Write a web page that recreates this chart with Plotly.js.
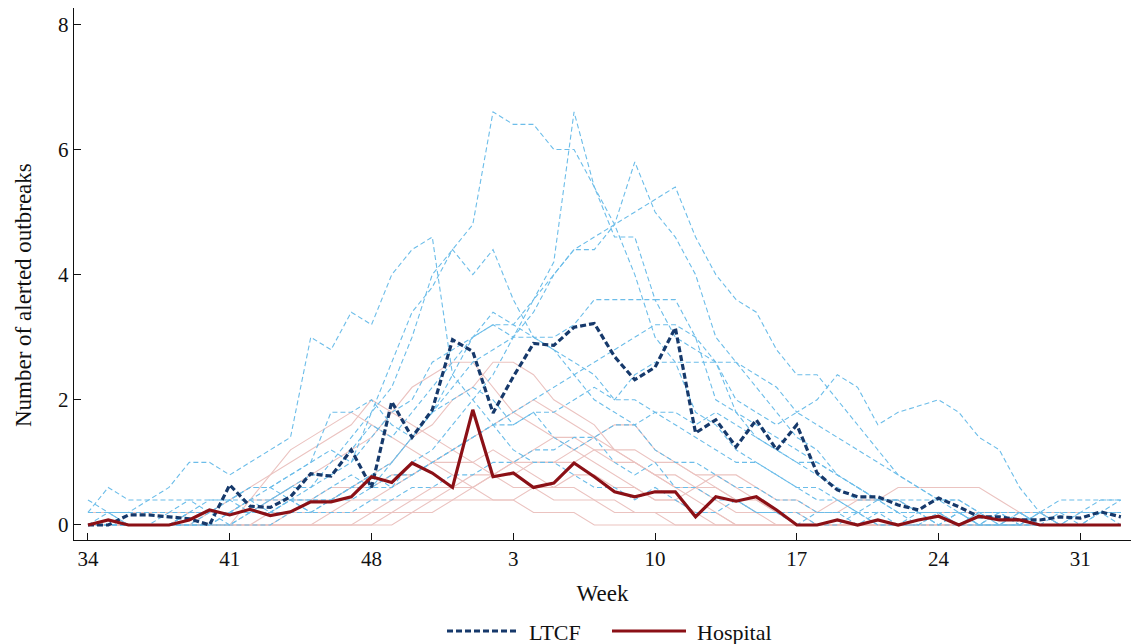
<!DOCTYPE html>
<html>
<head>
<meta charset="utf-8">
<script src="https://cdn.plot.ly/plotly-3.0.1.min.js"></script>
<style>html,body{margin:0;padding:0;background:#fff;}#chart{width:1131px;height:644px;}</style>
</head>
<body>
<div id="chart"></div>
<script>
// Epidemiological weeks (season from week 34 to week 33)
const weeks = ["34","35","36","37","38","39","40","41","42","43","44","45","46","47","48","49","50","51","52",
  "1","2","3","4","5","6","7","8","9","10","11","12","13","14","15","16","17","18","19","20","21","22","23","24",
  "25","26","27","28","29","30","31","32","33"];
const tickWeeks = ["34","41","48","3","10","17","24","31"];
const yTicks = [0,2,4,6,8];

// Mean series
const ltcfMean = [0,0,0.16,0.16,0.13,0.1,0,0.64,0.3,0.28,0.45,0.82,0.78,1.2,0.6,1.97,1.4,1.84,2.96,2.77,1.79,2.37,2.9,2.87,3.16,3.22,2.69,2.32,2.52,3.15,1.47,1.68,1.25,1.68,1.2,1.6,0.83,0.56,0.45,0.45,0.32,0.24,0.43,0.29,0.13,0.13,0.08,0.08,0.13,0.11,0.21,0.13];
const hospMean = [0,0.08,0,0,0,0.08,0.24,0.16,0.25,0.15,0.21,0.37,0.37,0.45,0.77,0.68,0.99,0.83,0.6,1.84,0.77,0.83,0.6,0.67,0.99,0.77,0.53,0.45,0.53,0.53,0.13,0.45,0.38,0.45,0.24,0,0,0.08,0,0.08,0,0.08,0.14,0,0.14,0.08,0.08,0,0,0,0,0];

// Individual LTCF seasons
const ltcf1 = [0.4,0.2,0.2,0.4,0.6,1.0,1.0,0.8,1.0,1.2,1.4,3.0,2.8,3.4,3.2,4.0,4.4,4.6,2.4,2.0,1.6,1.2,1.0,1.0,0.8,0.6,0.6,0.4,0.6,0.4,0.2,0.2,0.4,0.2,0.2,0,0.2,0.2,0,0.2,0,0,0.2,0,0,0.2,0,0,0.2,0,0,0];
const ltcf2 = [0,0,0,0,0.2,0.2,0.2,0.4,0.4,0.6,0.4,0.6,0.8,1.0,1.8,2.2,3.0,4.0,4.4,4.8,6.6,6.4,6.4,6.0,6.0,5.4,4.6,4.6,3.6,3.6,3.0,2.0,1.8,1.4,1.2,1.0,0.8,0.6,0.4,0.4,0.2,0.2,0.2,0,0.2,0,0,0.2,0,0,0.2,0];
const ltcf3 = [0,0.2,0,0,0,0.2,0.2,0.2,0.4,0.2,0.4,0.4,0.6,0.8,0.6,1.0,1.4,1.8,2.4,3.0,3.4,3.2,3.6,4.2,6.6,5.4,4.8,4.0,3.0,2.6,1.8,1.6,1.2,1.0,0.8,0.6,0.6,0.4,0.2,0.4,0.2,0.2,0,0.2,0,0,0.2,0,0,0,0.2,0.2];
const ltcf4 = [0,0,0,0,0,0,0.2,0,0.2,0.2,0.4,0.2,0.4,0.6,0.8,0.6,1.0,1.2,1.6,2.0,2.4,3.0,3.6,4.0,4.4,4.4,4.8,5.8,5.0,4.6,4.0,3.0,2.6,2.2,1.8,1.4,1.2,0.8,0.6,0.4,0.4,0.2,0.2,0,0.2,0,0.2,0,0,0,0,0];
const ltcf5 = [0.2,0.6,0.4,0.4,0.4,0.4,0.2,0.4,0.6,0.6,0.8,1.0,1.2,1.0,1.4,1.8,2.0,2.6,2.8,3.0,3.2,3.0,3.4,4.0,4.4,4.6,4.8,5.0,5.2,5.4,4.6,4.0,3.6,3.4,2.8,2.4,2.4,2.0,1.6,1.2,0.8,0.6,0.4,0.4,0.2,0.2,0,0.2,0,0.2,0.2,0.2];
const ltcf6 = [0,0,0,0,0,0,0,0.2,0.2,0.2,0.4,0.4,0.4,0.6,0.6,0.8,0.8,1.0,1.2,1.4,1.6,1.6,1.8,1.8,2.0,2.2,2.0,2.4,2.6,2.6,2.6,2.6,2.6,2.4,2.2,1.8,2.0,2.4,2.2,1.6,1.8,1.9,2.0,1.8,1.4,1.2,0.6,0.2,0.2,0.2,0.4,0.4];
const ltcf7 = [0,0,0,0,0,0.2,0.2,0.2,0.4,0.4,0.6,0.6,1.0,1.4,1.8,2.6,3.4,3.8,4.4,4.0,4.4,3.6,3.0,2.8,2.4,2.0,1.8,1.6,1.2,1.0,1.0,0.8,0.6,0.6,0.4,0.4,0.2,0.2,0.2,0,0,0.2,0,0,0,0,0,0,0,0,0,0];
const ltcf8 = [0.2,0.2,0.2,0.2,0.2,0.4,0.4,0.4,0.2,0.4,0.6,0.8,0.8,1.2,1.6,1.4,1.8,2.2,2.6,3.0,3.2,3.2,3.0,3.0,3.2,3.6,3.6,3.6,3.6,3.0,2.8,2.6,1.8,1.6,1.4,1.2,1.0,0.8,0.6,0.4,0.4,0.2,0.2,0.2,0,0.2,0.2,0,0,0.2,0.2,0.4];
const ltcf9 = [0,0,0,0,0,0,0,0.2,0.2,0.4,0.4,0.2,0.4,0.6,0.8,1.0,1.4,1.8,2.0,2.2,2.0,1.6,1.8,1.4,1.2,1.4,1.0,0.8,1.0,0.6,0.6,0.4,0.4,0.2,0.2,0.2,0,0,0.2,0,0,0,0,0.2,0,0,0,0,0,0,0,0];
const ltcf10 = [0,0,0,0,0,0,0,0,0.2,0.2,0.2,0.4,0.4,0.4,0.6,0.6,0.8,1.0,1.2,1.4,1.6,1.8,2.0,2.2,2.4,2.6,2.8,3.0,3.2,3.2,3.0,2.6,2.0,1.8,1.6,1.8,1.6,1.4,1.2,1.0,0.8,0.6,0.4,0.4,0.2,0.2,0.2,0,0,0,0,0];
const ltcf11 = [0,0,0,0,0,0.2,0.4,0.4,0.6,0.6,0.8,1.0,1.8,1.8,2.0,1.6,1.4,1.8,2.2,2.6,2.8,3.0,3.0,2.8,2.6,2.4,2.0,2.0,1.8,1.6,1.4,1.2,1.0,1.0,0.8,0.6,0.4,0.4,0.2,0.2,0.2,0,0.2,0.2,0,0,0,0.2,0,0,0,0];
const ltcf12 = [0.2,0.2,0,0,0,0,0,0,0,0,0.2,0.2,0.2,0.2,0.4,0.4,0.6,0.6,0.8,0.8,1.0,1.0,1.2,1.2,1.4,1.4,1.6,1.6,1.8,1.8,1.6,1.8,1.6,1.4,1.2,1.0,1.0,0.8,0.6,0.4,0.4,0.4,0.4,0.2,0.2,0.2,0.2,0.2,0.4,0.4,0.4,0.4];

// Individual hospital seasons
const hosp1 = [0,0,0,0,0,0,0.2,0.2,0.4,0.4,0.6,0.8,1.0,1.2,1.4,1.8,2.2,2.4,2.6,2.6,2.2,1.8,1.6,1.4,1.2,1.0,0.8,0.6,0.4,0.4,0.2,0.2,0,0,0,0,0,0,0,0,0,0,0,0,0,0,0,0,0,0,0,0];
const hosp2 = [0,0,0,0,0,0,0,0,0,0.2,0.2,0.4,0.4,0.6,0.8,1.0,1.4,1.6,2.0,2.2,2.6,2.6,2.4,2.0,1.8,1.6,1.2,1.0,0.8,0.6,0.6,0.4,0.2,0.2,0,0,0,0,0,0,0,0,0,0,0,0,0,0,0,0,0,0];
const hosp3 = [0,0,0,0,0,0.2,0.2,0.4,0.6,0.8,1.0,1.2,1.4,1.6,2.0,1.8,1.6,1.4,1.2,1.0,1.2,1.0,0.8,0.6,0.6,0.4,0.4,0.2,0.2,0,0,0,0,0,0,0,0,0,0,0,0,0,0,0,0,0,0,0,0,0,0,0];
const hosp4 = [0,0,0,0,0,0,0,0,0.4,0.8,1.2,1.4,1.6,1.8,1.6,1.4,1.2,1.0,0.8,0.6,0.4,0.4,0.2,0.2,0.2,0,0,0,0,0,0,0,0,0,0,0,0,0,0,0,0,0,0,0,0,0,0,0,0,0,0,0];
const hosp5 = [0,0,0,0,0,0,0,0,0,0,0,0,0.2,0.2,0.2,0.4,0.4,0.6,0.6,0.8,0.8,1.0,1.0,1.0,1.0,1.2,1.2,1.2,1.0,1.0,0.8,0.8,0.6,0.4,0.2,0,0,0,0,0,0,0,0,0,0,0,0,0,0,0,0,0];
const hosp6 = [0,0,0,0,0,0,0,0,0,0,0,0,0,0,0.2,0.2,0.4,0.4,0.6,0.6,0.8,0.8,1.0,1.0,1.2,1.4,1.6,1.6,1.2,1.0,0.8,0.6,0.4,0.4,0.2,0.2,0,0,0,0,0,0,0,0,0,0,0,0,0,0,0,0];
const hosp7 = [0,0,0,0,0,0,0,0,0,0,0,0,0,0,0,0.2,0.2,0.2,0.4,0.4,0.4,0.4,0.6,0.6,0.8,0.8,0.6,0.6,0.4,0.4,0.6,0.8,0.8,0.6,0.4,0.4,0.2,0.2,0.4,0.4,0.6,0.6,0.6,0.6,0.6,0.4,0.2,0.2,0,0,0,0];
const hosp8 = [0.2,0.2,0.2,0.2,0.2,0.2,0.2,0.2,0.2,0.4,0.4,0.4,0.6,0.6,0.6,0.8,0.8,1.0,1.0,1.0,0.8,0.6,0.6,0.4,0.4,0.4,0.2,0.2,0.2,0.2,0.2,0,0,0,0,0,0,0,0,0,0,0,0,0,0,0,0,0,0,0,0,0];
const hosp9 = [0,0,0,0,0,0,0,0,0,0,0.2,0.2,0.2,0.4,0.4,0.6,0.8,1.0,1.2,1.4,1.6,1.8,2.0,1.8,1.6,1.4,1.2,1.0,0.8,0.6,0.4,0.2,0,0,0,0,0,0,0,0,0,0,0,0,0,0,0,0,0,0,0,0];
const hosp10 = [0,0,0,0,0,0,0,0,0,0,0,0,0,0,0,0,0.2,0.4,0.4,0.6,0.8,1.0,1.2,1.4,1.4,1.2,1.0,1.0,0.8,0.8,0.6,0.6,0.4,0.2,0.2,0.2,0.2,0.4,0.4,0.4,0.4,0.2,0.2,0.2,0.2,0.2,0.2,0.2,0.2,0.2,0.2,0.2];

const ltcfSeasons = [ltcf1,ltcf2,ltcf3,ltcf4,ltcf5,ltcf6,ltcf7,ltcf8,ltcf9,ltcf10,ltcf11,ltcf12];
const hospSeasons = [hosp1,hosp2,hosp3,hosp4,hosp5,hosp6,hosp7,hosp8,hosp9,hosp10];

const traces = [];
hospSeasons.forEach(s => traces.push({x: weeks, y: s, type: 'scatter', mode: 'lines',
  line: {color: '#ebc3c0', width: 1.1}, showlegend: false, hoverinfo: 'skip'}));
ltcfSeasons.forEach(s => traces.push({x: weeks, y: s, type: 'scatter', mode: 'lines',
  line: {color: '#6cbde9', width: 1.1, dash: '5px,3px'}, showlegend: false, hoverinfo: 'skip'}));
traces.push({x: weeks, y: ltcfMean, type: 'scatter', mode: 'lines', name: 'LTCF',
  line: {color: '#16396b', width: 3.2, dash: '6px,3px'}, showlegend: false});
traces.push({x: weeks, y: hospMean, type: 'scatter', mode: 'lines', name: 'Hospital',
  line: {color: '#8b1016', width: 3.2}, showlegend: false});

const fontFam = '"Liberation Serif", "Times New Roman", serif';
const L = 74, R = 1131, T = 8, B = 540;
const px = v => (v - L) / (R - L);
const py = v => (B - v) / (B - T);

const layout = {
  width: 1131, height: 644,
  margin: {l: 74, r: 0, t: 8, b: 104},
  paper_bgcolor: '#fff', plot_bgcolor: '#fff',
  font: {family: fontFam, size: 21, color: '#111'},
  showlegend: false,
  xaxis: {
    type: 'category', categoryorder: 'array', categoryarray: weeks,
    range: [-0.69, 51.5],
    tickmode: 'array', tickvals: tickWeeks, ticktext: tickWeeks,
    ticks: 'inside', ticklen: 7, tickwidth: 1, tickcolor: '#111',
    showline: true, linecolor: '#111', linewidth: 1.2,
    showgrid: false, zeroline: false,
    tickfont: {family: fontFam, size: 21, color: '#111'},
    title: {text: 'Week', font: {family: fontFam, size: 23, color: '#111'}, standoff: 14}
  },
  yaxis: {
    range: [-0.24, 8.26],
    tickmode: 'array', tickvals: yTicks,
    ticks: 'inside', ticklen: 7, tickwidth: 1, tickcolor: '#111',
    showline: true, linecolor: '#111', linewidth: 1.2,
    showgrid: false, zeroline: false,
    tickfont: {family: fontFam, size: 21, color: '#111'}
  },
  shapes: [
    {type: 'line', xref: 'paper', yref: 'paper', x0: px(447), x1: px(518), y0: py(631), y1: py(631),
      line: {color: '#16396b', width: 3, dash: '6px,3px'}},
    {type: 'line', xref: 'paper', yref: 'paper', x0: px(612), x1: px(686), y0: py(631), y1: py(631),
      line: {color: '#8b1016', width: 3}}
  ],
  annotations: [
    {xref: 'paper', yref: 'paper', x: px(23), y: py(295), xanchor: 'center', yanchor: 'middle',
      textangle: -90, text: 'Number of alerted outbreaks', showarrow: false,
      font: {family: fontFam, size: 23, color: '#111'}},
    {xref: 'paper', yref: 'paper', x: px(527), y: py(632), xanchor: 'left', yanchor: 'middle',
      text: 'LTCF', showarrow: false, font: {family: fontFam, size: 22, color: '#111'}},
    {xref: 'paper', yref: 'paper', x: px(695), y: py(632), xanchor: 'left', yanchor: 'middle',
      text: 'Hospital', showarrow: false, font: {family: fontFam, size: 22, color: '#111'}}
  ]
};

Plotly.newPlot('chart', traces, layout, {staticPlot: true, displayModeBar: false});
</script>
</body>
</html>
